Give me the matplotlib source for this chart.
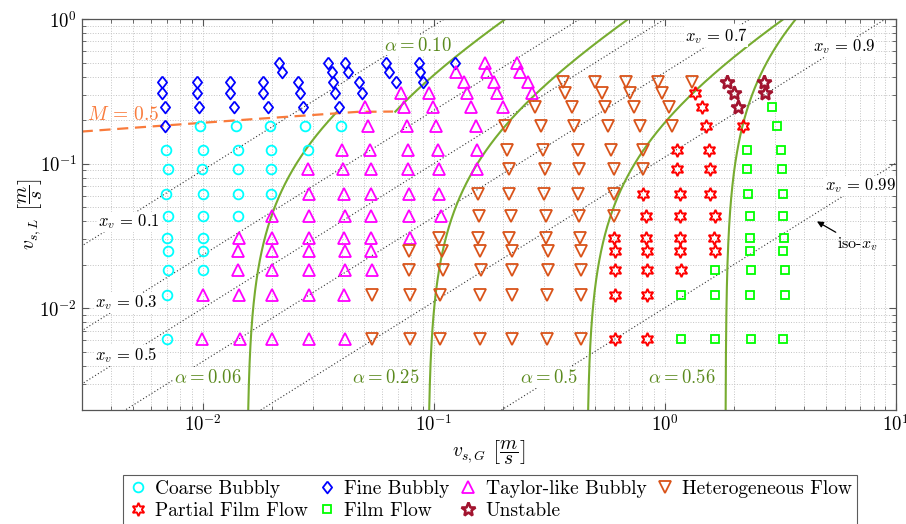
import numpy as np
import matplotlib
matplotlib.use('Agg')
import matplotlib.pyplot as plt
from matplotlib.ticker import FixedLocator, FixedFormatter, NullFormatter

plt.rcParams['mathtext.fontset'] = 'cm'
plt.rcParams['axes.unicode_minus'] = False

# ---- flow regime map points: superficial gas (vsg) and liquid (vsl) velocity, m/s ----
coarse_vsg = [0.00975, 0.0140, 0.0196, 0.0278, 0.0396,
              0.00695, 0.0100, 0.0143, 0.0197, 0.0285,
              0.00707, 0.00992, 0.0142, 0.0198,
              0.00697, 0.0100, 0.0143, 0.0198,
              0.00707, 0.0100, 0.0142,
              0.00703, 0.0100,
              0.00709, 0.0100,
              0.0071, 0.0100,
              0.00703,
              0.00703]
coarse_vsl = [0.183] * 5 + [0.124] * 5 + [0.0922] * 4 + [0.0615] * 4 + [0.0432] * 3 \
    + [0.0306] * 2 + [0.0249] * 2 + [0.0185] * 2 + [0.0123] + [0.00616]

fine_vsg = [0.0067, 0.0067, 0.00688, 0.00691,
            0.00944, 0.00944, 0.00965,
            0.01315, 0.01315, 0.01373,
            0.01832, 0.01832, 0.01926,
            0.02148, 0.0220,
            0.02597, 0.02641, 0.02729,
            0.03502, 0.03621, 0.0368, 0.03743, 0.03907,
            0.04135, 0.04273,
            0.0477, 0.04885,
            0.0622, 0.06428, 0.06873,
            0.08671, 0.08731, 0.09021,
            0.1237]
fine_vsl = [0.367, 0.307, 0.246, 0.183,
            0.367, 0.307, 0.246,
            0.367, 0.307, 0.246,
            0.367, 0.307, 0.246,
            0.495, 0.427,
            0.367, 0.307, 0.246,
            0.495, 0.427, 0.367, 0.307, 0.246,
            0.495, 0.427,
            0.367, 0.307,
            0.495, 0.427, 0.367,
            0.495, 0.427, 0.367,
            0.495]

taylor_vsg = [0.1668, 0.1697, 0.1825, 0.1874, 0.2002,
              0.2288, 0.2365, 0.2568, 0.2657,
              0.125, 0.1358, 0.1399, 0.1447, 0.1521,
              0.0720, 0.0744, 0.0765,
              0.0958, 0.0997, 0.1024,
              0.0505, 0.0522,
              0.0401, 0.0531, 0.0777, 0.1041, 0.1535,
              0.0285, 0.0406, 0.0535, 0.0777, 0.1057, 0.1535,
              0.0288, 0.0411, 0.0536, 0.0780, 0.1055,
              0.0199, 0.0288, 0.0414, 0.0536, 0.0780, 0.1076,
              0.0144, 0.0199, 0.0288, 0.0411, 0.0536, 0.0790,
              0.0142, 0.0199, 0.0288, 0.0414, 0.0536,
              0.0143, 0.0199, 0.0288, 0.0414, 0.0538,
              0.0100, 0.0144, 0.0199, 0.0288, 0.0411,
              0.0099, 0.0145, 0.0199, 0.0288, 0.0414]
taylor_vsl = [0.495, 0.427, 0.367, 0.307, 0.246,
              0.495, 0.427, 0.367, 0.307,
              0.427, 0.367, 0.307, 0.246, 0.183,
              0.307, 0.246, 0.183,
              0.307, 0.246, 0.183,
              0.246, 0.183] \
    + [0.124] * 5 + [0.0922] * 6 + [0.0615] * 5 + [0.0432] * 6 + [0.0306] * 6 \
    + [0.0249] * 5 + [0.0185] * 5 + [0.0123] * 5 + [0.00616] * 5

hetero_vsg = [0.3618, 0.4991, 0.6798, 0.9378, 1.308,
              0.3702, 0.5336, 0.7074, 0.9701,
              0.2746, 0.3957, 0.5513, 0.7384, 1.047,
              0.2036, 0.2915, 0.4061, 0.5699, 0.7814, 1.0785,
              0.2071, 0.2982, 0.420, 0.5854, 0.8028,
              0.2127, 0.3027, 0.4269, 0.600, 0.808,
              0.1551, 0.2127, 0.301, 0.420, 0.600,
              0.1576, 0.2162, 0.3064, 0.4269, 0.600,
              0.1058, 0.156, 0.2127, 0.3064, 0.4299,
              0.0785, 0.1084, 0.1587, 0.2173, 0.3115, 0.4341,
              0.0785, 0.1095, 0.1603, 0.2173, 0.3115, 0.4341,
              0.0541, 0.0790, 0.1066, 0.1587, 0.2173, 0.3099, 0.4341,
              0.0541, 0.0790, 0.1066, 0.1587, 0.2173, 0.3099, 0.4341]
hetero_vsl = [0.367] * 5 + [0.307] * 4 + [0.246] * 5 + [0.183] * 6 + [0.124] * 5 \
    + [0.0922] * 5 + [0.0615] * 5 + [0.0432] * 5 + [0.0306] * 5 + [0.0249] * 6 \
    + [0.0185] * 6 + [0.0123] * 7 + [0.00616] * 7

partial_vsg = [1.352, 1.445, 1.509, 2.175,
               1.133, 1.559,
               1.133, 1.570,
               0.805, 1.159, 1.570,
               0.826, 1.159, 1.642,
               0.605, 0.826, 1.163, 1.626,
               0.607, 0.838, 1.168, 1.642,
               0.607, 0.838, 1.180,
               0.607, 0.835,
               0.607, 0.835]
partial_vsl = [0.307, 0.246, 0.183, 0.183] + [0.124] * 2 + [0.0922] * 2 + [0.0615] * 3 \
    + [0.0432] * 3 + [0.0306] * 4 + [0.0249] * 4 + [0.0185] * 3 + [0.0123] * 2 + [0.00616] * 2

film_vsg = [2.92, 3.061,
            2.277, 3.186,
            2.277, 3.227,
            2.30, 3.24,
            2.339, 3.25,
            2.339, 3.27,
            2.339, 3.25,
            1.645, 2.35, 3.30,
            1.176, 1.645, 2.339, 3.30,
            1.176, 1.645, 2.35, 3.25]
film_vsl = [0.246, 0.183] + [0.124] * 2 + [0.0922] * 2 + [0.0615] * 2 + [0.0432] * 2 \
    + [0.0306] * 2 + [0.0249] * 2 + [0.0185] * 3 + [0.0123] * 4 + [0.00616] * 4

unstable_vsg = [1.854, 1.981, 2.081, 2.69, 2.716]
unstable_vsl = [0.366, 0.307, 0.246, 0.366, 0.307]

# ---- iso-void-fraction curves (drift flux parameters) ----
alpha_vals = [0.06, 0.10, 0.25, 0.50, 0.56]
alpha_c0 = [1.50, 1.50, 1.50, 1.474, 1.161]
alpha_vgj = [0.236, 0.236, 0.236, 0.242, 1.142]
alpha_vsl_lo = [0.002, 0.229, 0.002, 0.002, 0.002]
alpha_vsl_hi = [0.2275, 1.0, 1.0, 1.0, 1.0]
alpha_labels = [r'$\alpha = 0.06$', r'$\alpha = 0.10$', r'$\alpha = 0.25$', r'$\alpha = 0.5$', r'$\alpha = 0.56$']
alpha_label_x = [0.0105, 0.0852, 0.0622, 0.314, 1.182]
alpha_label_y = [0.00333, 0.661, 0.00333, 0.00333, 0.00333]

# ---- iso volumetric quality lines ----
xv_vals = [0.1, 0.3, 0.5, 0.7, 0.9, 0.99]
xv_labels = [r'$x_v\, =\, 0.1$', r'$x_v\, =\, 0.3$', r'$x_v\, =\, 0.5$',
             r'$x_v\, =\, 0.7$', r'$x_v\, =\, 0.9$', r'$x_v\, =\, 0.99$']
xv_label_x = [0.00481, 0.00466, 0.00468, 1.666, 5.96, 7.0]
xv_label_y = [0.0397, 0.01096, 0.00472, 0.763, 0.641, 0.0704]

# ---- M = 0.5 boundary ----
m_vsg = [0.003, 0.005926, 0.01605, 0.04681, 0.0667]
m_vsl = [0.1668, 0.1806, 0.2025, 0.2282, 0.2293]

xtick_vals = [1e-2, 1e-1, 1e0, 1e1]
xtick_labels = [r'$10^{-2}$', r'$10^{-1}$', r'$10^{0}$', r'$10^{1}$']
ytick_vals = [1e-2, 1e-1, 1e0]
ytick_labels = [r'$10^{-2}$', r'$10^{-1}$', r'$10^{0}$']

fig = plt.figure(figsize=(9.06, 5.24), dpi=100)
ax = fig.add_axes([0.0902, 0.2185, 0.8988, 0.7452])
ax.set_xscale('log')
ax.set_yscale('log')
ax.set_xlim(0.003, 10)
ax.set_ylim(0.002, 1)

ax.grid(True, which='both', ls=':', color='#c4c4c4', lw=0.7)
ax.set_axisbelow(True)

# iso-xv lines: vsl = vsg (1 - xv) / xv
for xv, lab, lx, ly in zip(xv_vals, xv_labels, xv_label_x, xv_label_y):
    k = (1 - xv) / xv
    ax.plot([1e-4, 1e2], [k * 1e-4, k * 1e2], ls=(0, (1, 2)), color='#333333', lw=0.8, zorder=1)
    ax.text(lx, ly, lab, fontsize=12, ha='center', va='center', zorder=3,
            bbox=dict(facecolor='white', edgecolor='none', pad=0.5))

# iso-alpha curves
green = '#77AC30'
for a, c0, vgj, lo, hi, lab, lx, ly in zip(alpha_vals, alpha_c0, alpha_vgj, alpha_vsl_lo,
                                            alpha_vsl_hi, alpha_labels, alpha_label_x, alpha_label_y):
    vsl = np.logspace(np.log10(lo), np.log10(hi), 300)
    vsg = a * (c0 * vsl + vgj) / (1 - a * c0)
    ax.plot(vsg, vsl, color=green, lw=1.5, zorder=2)
    ax.text(lx, ly, lab, fontsize=13.5, color='#5B8A1E', ha='center', va='center', zorder=3,
            bbox=dict(facecolor='white', edgecolor='none', pad=0.6))

# M line
orange = '#F97B3C'
ax.plot(m_vsg, m_vsl, ls=(0, (5, 3)), color=orange, lw=1.6, zorder=2)
ax.text(0.00453, 0.2176, r'$M\, =\, 0.5$', fontsize=14, color=orange, ha='center', va='center', zorder=3)

ax.annotate('iso-$x_v$', xy=(4.55, 0.0399), xytext=(5.55, 0.0276), fontsize=11.5,
            family='cmr10', ha='left', va='center',
            arrowprops=dict(arrowstyle='-|>', color='k', lw=0.9, shrinkA=1, shrinkB=0,
                            mutation_scale=9))

hexagram = (6, 1, 0)
diamond = [(0, 1), (0.78, 0), (0, -1), (-0.78, 0), (0, 1)]
kw = dict(ls='none', mfc='none', zorder=4)
h_cb, = ax.plot(coarse_vsg, coarse_vsl, marker='o', ms=7, mec='#00FFFF', mew=1.3, label='Coarse Bubbly', **kw)
h_fb, = ax.plot(fine_vsg, fine_vsl, marker=diamond, ms=8.5, mec='#0000FF', mew=1.3, label='Fine Bubbly', **kw)
h_tb, = ax.plot(taylor_vsg, taylor_vsl, marker='^', ms=8, mec='#FF00FF', mew=1.3, label='Taylor-like Bubbly', **kw)
h_hf, = ax.plot(hetero_vsg, hetero_vsl, marker='v', ms=8, mec='#D95319', mew=1.3, label='Heterogeneous Flow', **kw)
h_pf, = ax.plot(partial_vsg, partial_vsl, marker=hexagram, ms=9.5, mec='#FF0000', mew=1.4, label='Partial Film Flow', **kw)
h_ff, = ax.plot(film_vsg, film_vsl, marker='s', ms=6, mec='#00FF00', mew=1.3, label='Film Flow', **kw)
h_us, = ax.plot(unstable_vsg, unstable_vsl, marker='*', ms=10.5, mec='#A2142F', mew=1.9, label='Unstable', **kw)

ax.xaxis.set_major_locator(FixedLocator(xtick_vals))
ax.xaxis.set_major_formatter(FixedFormatter(xtick_labels))
ax.yaxis.set_major_locator(FixedLocator(ytick_vals))
ax.yaxis.set_major_formatter(FixedFormatter(ytick_labels))
ax.xaxis.set_minor_formatter(NullFormatter())
ax.yaxis.set_minor_formatter(NullFormatter())
ax.tick_params(which='both', direction='in', top=True, right=True, color='#555555', labelsize=13.5)
ax.tick_params(which='major', length=5, width=0.8)
ax.tick_params(which='minor', length=3, width=0.6)
for sp in ax.spines.values():
    sp.set_color('#555555')
    sp.set_linewidth(0.9)

ax.set_xlabel(r'$v_{s,G}\ \left[\dfrac{m}{s}\right]$', fontsize=14)
ax.set_ylabel(r'$v_{s,L}\ \left[\dfrac{m}{s}\right]$', fontsize=14)
ax.xaxis.set_label_coords(0.5, -0.075)
ax.yaxis.set_label_coords(-0.045, 0.5)

# column-major fill so rows read left to right
handles = [h_cb, h_pf, h_fb, h_ff, h_tb, h_us, h_hf]
leg = fig.legend(handles, [h.get_label() for h in handles], ncol=4, loc='upper center',
                 bbox_to_anchor=(0.541, 0.0935), frameon=True, fancybox=False,
                 prop={'family': 'cmr10', 'size': 14}, handlelength=1.0, handletextpad=0.4,
                 columnspacing=0.45, borderpad=0.25, labelspacing=0.2, borderaxespad=0)
leg.get_frame().set_edgecolor('#333333')
leg.get_frame().set_linewidth(0.8)

fig.savefig('out.png', dpi=100)
